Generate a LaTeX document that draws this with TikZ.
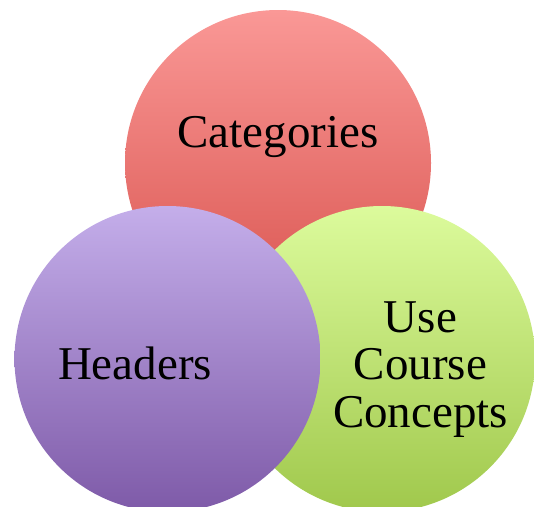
\documentclass[tikz,border=0pt]{standalone}
\usepackage{fontspec}
\setmainfont{Liberation Serif}
\definecolor{redtop}{RGB}{250,152,150}
\definecolor{redbot}{RGB}{217,84,79}
\definecolor{purtop}{RGB}{196,174,234}
\definecolor{purbot}{RGB}{126,90,168}
\definecolor{grntop}{RGB}{220,251,156}
\definecolor{grnbot}{RGB}{160,200,76}
\begin{document}
\begin{tikzpicture}[x=1pt,y=-1pt,
  bubble/.style={circle,minimum size=306pt,inner sep=0pt,draw=none},
  lbl/.style={font=\fontsize{47}{47.5}\selectfont,inner sep=0pt,align=center}]
\useasboundingbox (0,0) rectangle (534,506);
\node[bubble,top color=redtop,bottom color=redbot] (cat) at (278,163) {};
\node[bubble,top color=grntop,bottom color=grnbot] (use) at (382,359) {};
\node[bubble,top color=purtop,bottom color=purbot] (hea) at (167.5,359) {};
\node[lbl,anchor=base] (tcat) at (278,147) {Categories};
\node[lbl,anchor=base] (thea) at (135,379) {Headers};
\node[lbl,anchor=base] (tuse) at (420.5,427) {Use\\Course\\Concepts};
\end{tikzpicture}
\end{document}
